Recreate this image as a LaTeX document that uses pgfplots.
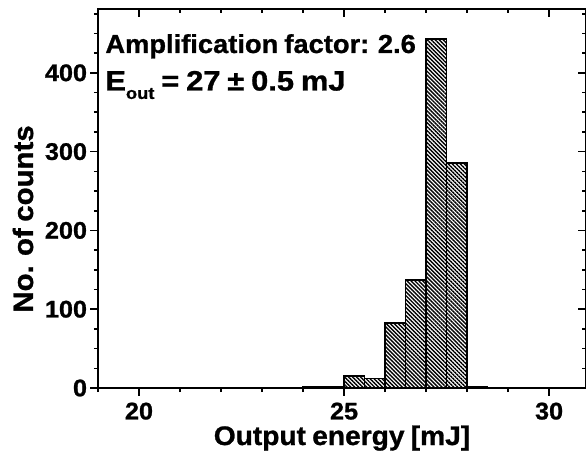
\documentclass[border=0pt]{standalone}
\usepackage{graphicx}
\usepackage{pgfplots}
\pgfplotsset{compat=1.18}
\usepackage{fontspec}
\setmainfont{Liberation Sans}[FakeStretch=1.05,FakeBold=1,WordSpace=0.8]
\usetikzlibrary{patterns.meta,calc}

\begin{document}
\begin{tikzpicture}
\pgfplotsset{
  common/.style={
    scale only axis, width=244bp, height=189.5bp,
    xmin=19, xmax=30.9, ymin=0, ymax=481,
    xtick={20,25,30}, minor xtick={19,21,22,23,24,26,27,28,29},
    ytick={0,100,200,300,400},
    minor ytick={25,50,75,125,150,175,225,250,275,325,350,375,425,450,475},
    major tick length=3.8bp, minor tick length=2bp,
    every tick/.style={black, line width=0.8bp},
    axis line style={line width=1bp},
  }
}
\begin{axis}[common,
  xtick pos=left, ytick pos=left, tick align=outside,
  ticklabel style={font=\fontsize{12bp}{12bp}\selectfont\bfseries},
  /pgf/number format/assume math mode=true,
  xlabel={Output energy [mJ]}, ylabel={No. of counts},
  every axis label/.append style={font=\fontsize{13.4bp}{13.4bp}\selectfont\bfseries},
  every axis x label/.style={at={(axis description cs:0.5,0)}, anchor=base, yshift=-28.5bp},
  every axis y label/.style={at={(axis description cs:0,0.446)}, xshift=-32.5bp, rotate=90, anchor=base,
    font=\fontsize{14bp}{14bp}\selectfont\bfseries},
  yticklabel style={inner xsep=1.5bp},
  clip=false,
]
\addplot[ybar interval, draw=black, line width=0.9bp,
  pattern={Lines[angle=-45,distance=1.4bp,line width=0.7bp]}]
  coordinates {(24,1) (24.5,1) (25,15) (25.5,12) (26,82) (26.5,137) (27,443) (27.5,286) (28,1) (28.5,1)};
\node[anchor=base west, xshift=3.5bp, yshift=-22bp, inner sep=0,
  font=\fontsize{13bp}{13bp}\selectfont\bfseries] at (rel axis cs:0,1) {Amplification factor: 2.6};
\node[anchor=base west, xshift=3.5bp, yshift=-40.75bp, inner sep=0,
  font=\fontsize{14bp}{14bp}\selectfont\bfseries] at (rel axis cs:0,1)
  {\scalebox{1.05}[1]{E\raisebox{-4.2bp}{\fontsize{8.3bp}{8.3bp}\selectfont out} = 27 ± 0.5 mJ}};
\coordinate (SW) at (rel axis cs:0,0);
\coordinate (NE) at (rel axis cs:1,1);
\end{axis}
\begin{axis}[common,
  xtick pos=right, ytick pos=right, tick align=inside,
  xticklabels={}, yticklabels={},
]
\end{axis}
\pgfresetboundingbox
\path ($(SW)+(-49bp,-34bp)$) rectangle ($(NE)+(0,4.5bp)$);
\end{tikzpicture}
\end{document}
